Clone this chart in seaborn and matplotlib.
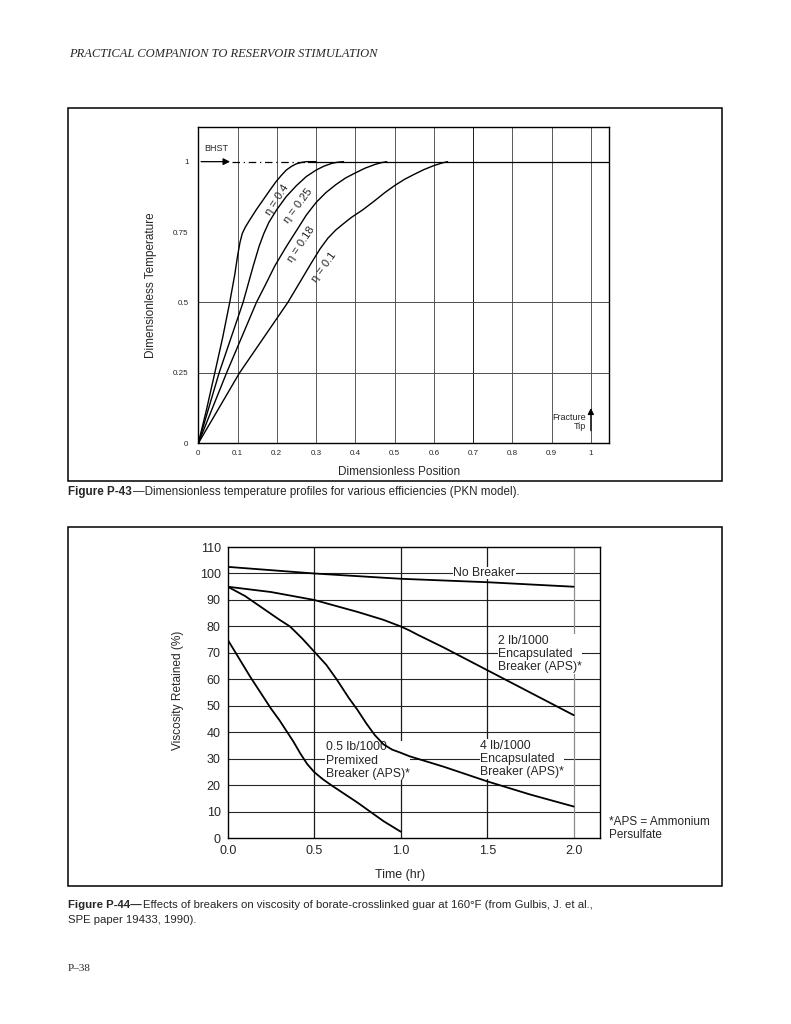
"""
Two figures from a scanned page: P-43 (dimensionless temperature profiles, PKN)
and P-44 (viscosity retained vs time for several breakers).
"""

import matplotlib
matplotlib.use("Agg")
import matplotlib.pyplot as plt
import pandas as pd
import seaborn as sns
from matplotlib.patches import Rectangle

# ---------------------------------------------------------------------------
# Figure P-43 data
# ---------------------------------------------------------------------------
ETA_NAMES = ["η = 0.4", "η = 0.25", "η = 0.18", "η = 0.1"]
ETA_04_X = [0, 0.021, 0.042, 0.062, 0.08, 0.093, 0.1, 0.106, 0.112, 0.12, 0.131,
            0.148, 0.165, 0.182, 0.198, 0.212, 0.224, 0.237, 0.249, 0.262, 0.275, 0.3]
ETA_04_Y = [0, 0.12, 0.25, 0.375, 0.5, 0.6, 0.665, 0.712, 0.745, 0.768, 0.793,
            0.83, 0.864, 0.898, 0.929, 0.952, 0.97, 0.983, 0.992, 0.997, 1.0, 1.0]
ETA_025_X = [0, 0.053, 0.114, 0.14, 0.155, 0.167, 0.18, 0.2, 0.224, 0.25, 0.275,
             0.3, 0.32, 0.34, 0.355, 0.37]
ETA_025_Y = [0, 0.25, 0.5, 0.63, 0.7, 0.745, 0.785, 0.83, 0.876, 0.915, 0.947,
             0.97, 0.984, 0.994, 0.998, 1.0]
ETA_018_X = [0, 0.072, 0.148, 0.17, 0.195, 0.224, 0.25, 0.275, 0.3, 0.325, 0.35,
             0.375, 0.4, 0.425, 0.45, 0.465, 0.48]
ETA_018_Y = [0, 0.25, 0.5, 0.56, 0.63, 0.698, 0.755, 0.81, 0.855, 0.89, 0.918,
             0.942, 0.96, 0.977, 0.99, 0.996, 1.0]
ETA_01_X = [0, 0.105, 0.228, 0.29, 0.31, 0.33, 0.35, 0.37, 0.39, 0.418, 0.45,
            0.475, 0.5, 0.525, 0.55, 0.575, 0.6, 0.62, 0.635]
ETA_01_Y = [0, 0.25, 0.5, 0.645, 0.69, 0.728, 0.757, 0.78, 0.802, 0.828, 0.862,
            0.89, 0.915, 0.937, 0.955, 0.972, 0.986, 0.995, 1.0]

POS_TICKS = [0, 0.1, 0.2, 0.3, 0.4, 0.5, 0.6, 0.7, 0.8, 0.9, 1]
POS_TICKLABELS = ["0", "0.1", "0.2", "0.3", "0.4", "0.5", "0.6", "0.7", "0.8", "0.9", "1"]
TEMP_TICKS = [0, 0.25, 0.5, 0.75, 1]
TEMP_TICKLABELS = ["0", "0.25", "0.5", "0.75", "1"]

# ---------------------------------------------------------------------------
# Figure P-44 data
# ---------------------------------------------------------------------------
NO_BRK_T = [0, 0.5, 1.0, 1.5, 2.0]
NO_BRK_V = [102.5, 100, 98, 96.7, 95]
ENC2_T = [0, 0.25, 0.5, 0.75, 0.9, 1.0, 1.05, 1.1, 1.25, 1.5, 1.75, 2.0]
ENC2_V = [95, 93, 90, 85.5, 82.5, 80, 78.5, 76.8, 72, 63.5, 55, 46.5]
ENC4_T = [0, 0.1, 0.2, 0.3, 0.36, 0.43, 0.5, 0.57, 0.63, 0.7, 0.75, 0.8, 0.85,
          0.9, 0.95, 1.0, 1.05, 1.1, 1.25, 1.5, 1.75, 2.0]
ENC4_V = [95, 91.5, 87, 82.5, 80, 75.5, 70.5, 65.5, 60, 53, 48.5, 43.5, 39,
          35.5, 33.5, 32.3, 31, 30, 27, 21.5, 16.5, 12]
PREMIX_T = [0, 0.065, 0.13, 0.19, 0.25, 0.3, 0.345, 0.38, 0.42, 0.46, 0.5, 0.55,
            0.6, 0.75, 0.9, 1.0]
PREMIX_V = [75, 68, 61, 55, 49, 44.5, 40, 36.5, 32, 28, 25, 22.3, 20, 13.5, 6.5, 2.5]

TIME_TICKS = [0.0, 0.5, 1.0, 1.5, 2.0]
TIME_TICKLABELS = ["0.0", "0.5", "1.0", "1.5", "2.0"]
VISC_TICKS = [0, 10, 20, 30, 40, 50, 60, 70, 80, 90, 100, 110]

SANS = ["Liberation Sans", "DejaVu Sans"]
SERIF = ["Liberation Serif", "DejaVu Serif"]

W, H = 791, 1024


def fx(px):
    return px / W


def fy(py):
    return 1 - py / H


def bold_then_regular(fig, x, y, bold, regular, size):
    """Caption line: bold lead-in followed by regular text."""
    t = fig.text(x, y, bold, fontsize=size, fontweight="bold", family=SANS,
                 va="baseline", ha="left")
    r = fig.canvas.get_renderer()
    bb = t.get_window_extent(renderer=r)
    fig.text(fx(bb.x1) + 0.002, y, regular, fontsize=size, family=SANS,
             va="baseline", ha="left")


def main():
    sns.set_style("white")
    plt.rcParams["font.family"] = SANS

    fig = plt.figure(figsize=(W / 100, H / 100), dpi=100)

    # page furniture
    fig.text(fx(69), fy(57), "PRACTICAL COMPANION TO RESERVOIR STIMULATION",
             family=SERIF, style="italic", fontsize=9, va="baseline")
    fig.text(fx(68), fy(971), "P–38", family=SERIF, fontsize=8, va="baseline")
    for top, bot in [(108, 481), (527, 886)]:
        fig.add_artist(Rectangle((fx(68), fy(bot)), fx(722) - fx(68), fy(top) - fy(bot),
                                 transform=fig.transFigure, fill=False,
                                 edgecolor="black", lw=1.1))

    # ---------------- P-43 ----------------
    ax1 = fig.add_axes([fx(198.3), fy(443.3), fx(609.3) - fx(198.3), fy(127.3) - fy(443.3)])
    curves = []
    for name, xs, ys in zip(ETA_NAMES, [ETA_04_X, ETA_025_X, ETA_018_X, ETA_01_X],
                            [ETA_04_Y, ETA_025_Y, ETA_018_Y, ETA_01_Y]):
        curves.append(pd.DataFrame({"pos": xs, "temp": ys, "curve": name}))
    df1 = pd.concat(curves, ignore_index=True)

    for v in POS_TICKS[1:]:
        ax1.axvline(v, color="0.35" if v != 0.7 else "0.1", lw=0.7, zorder=0)
    for h in [0.25, 0.5]:
        ax1.axhline(h, color="0.3", lw=0.7, zorder=0)

    sns.lineplot(data=df1, x="pos", y="temp", units="curve", estimator=None,
                 sort=False, color="black", lw=1.0, ax=ax1)

    # BHST line
    ax1.plot([0.085, 0.28], [1, 1], color="black", lw=0.9, ls=(0, (6, 3, 1, 3)))
    ax1.plot([0.28, 1.047], [1, 1], color="black", lw=0.9)
    ax1.annotate("", xy=(0.088, 1), xytext=(0.0, 1),
                 arrowprops=dict(arrowstyle="-|>", color="black", lw=0.9,
                                 mutation_scale=10))
    ax1.text(0.015, 1.03, "BHST", fontsize=6.5, ha="left", va="bottom")

    # fracture tip
    ax1.annotate("", xy=(1.0, 0.135), xytext=(1.0, 0.035),
                 arrowprops=dict(arrowstyle="-|>", color="black", lw=0.9,
                                 mutation_scale=9))
    ax1.text(0.988, 0.076, "Fracture\nTip", fontsize=6.5, ha="right", va="center",
             multialignment="right", linespacing=1.1)

    label_pos = [(0.201, 0.864, 57), (0.255, 0.843, 53), (0.261, 0.708, 56), (0.32, 0.627, 54)]
    for name, (lx, ly, rot) in zip(ETA_NAMES, label_pos):
        ax1.text(lx, ly, name, fontsize=8, rotation=rot, ha="center", va="center",
                 rotation_mode="anchor")

    ax1.set_xlim(0, 1.047)
    ax1.set_ylim(0, 1.122)
    ax1.set_xticks(POS_TICKS)
    ax1.set_xticklabels(POS_TICKLABELS)
    ax1.set_yticks(TEMP_TICKS)
    ax1.set_yticklabels(TEMP_TICKLABELS)
    ax1.tick_params(axis="both", length=0, labelsize=5.8)
    ax1.tick_params(axis="x", pad=5)
    ax1.tick_params(axis="y", pad=7)
    ax1.set_xlabel("Dimensionless Position", fontsize=8.5)
    ax1.set_ylabel("Dimensionless Temperature", fontsize=8.5)
    ax1.xaxis.set_label_coords(0.488, -0.072)
    ax1.yaxis.set_label_coords(-0.101, 0.5)
    for s in ax1.spines.values():
        s.set_color("black")
        s.set_linewidth(1.0)

    bold_then_regular(fig, fx(68), fy(495), "Figure P-43",
                      "—Dimensionless temperature profiles for various efficiencies (PKN model).", 8.4)

    # ---------------- P-44 ----------------
    ax2 = fig.add_axes([fx(227.7), fy(838.3), fx(600) - fx(227.7), fy(547) - fy(838.3)])
    series = [
        ("No Breaker", NO_BRK_T, NO_BRK_V),
        ("2 lb/1000 encapsulated", ENC2_T, ENC2_V),
        ("4 lb/1000 encapsulated", ENC4_T, ENC4_V),
        ("0.5 lb/1000 premixed", PREMIX_T, PREMIX_V),
    ]
    df2 = pd.concat([pd.DataFrame({"time": t, "visc": v, "curve": n}) for n, t, v in series],
                    ignore_index=True)

    for h in VISC_TICKS[1:-1]:
        ax2.axhline(h, color="0.15", lw=0.8, zorder=0)
    for v in TIME_TICKS[1:]:
        ax2.axvline(v, color="0.1" if v < 2 else "0.55", lw=0.9, zorder=0)

    sns.lineplot(data=df2, x="time", y="visc", units="curve", estimator=None,
                 sort=False, color="black", lw=1.3, ax=ax2, zorder=3)

    box = dict(facecolor="white", edgecolor="none", pad=0.3)
    ax2.text(1.305, 100.2, "No Breaker", fontsize=8.8, ha="left", va="center",
             bbox=box, zorder=1)
    ax2.text(1.563, 69.6, "2 lb/1000\nEncapsulated\nBreaker (APS)*", fontsize=8.8,
             ha="left", va="center", linespacing=1.15, bbox=box, zorder=1)
    ax2.text(1.459, 30.0, "4 lb/1000\nEncapsulated\nBreaker (APS)*", fontsize=8.8,
             ha="left", va="center", linespacing=1.15, bbox=box, zorder=1)
    ax2.text(0.566, 29.3, "0.5 lb/1000\nPremixed\nBreaker (APS)*", fontsize=8.8,
             ha="left", va="center", linespacing=1.15, bbox=box, zorder=1)
    ax2.text(2.205, 3.6, "*APS = Ammonium\nPersulfate", fontsize=8.5, ha="left",
             va="center", linespacing=1.15, clip_on=False)

    ax2.set_xlim(0, 2.152)
    ax2.set_ylim(0, 110)
    ax2.set_xticks(TIME_TICKS)
    ax2.set_xticklabels(TIME_TICKLABELS)
    ax2.set_yticks(VISC_TICKS)
    ax2.tick_params(axis="both", length=0, labelsize=9)
    ax2.tick_params(axis="x", pad=5)
    ax2.tick_params(axis="y", pad=5)
    ax2.set_xlabel("Time (hr)", fontsize=9)
    ax2.set_ylabel("Viscosity Retained (%)", fontsize=8.6)
    ax2.xaxis.set_label_coords(0.463, -0.105)
    ax2.yaxis.set_label_coords(-0.118, 0.509)
    for s in ax2.spines.values():
        s.set_color("black")
        s.set_linewidth(1.0)

    bold_then_regular(fig, fx(68), fy(908), "Figure P-44\u2014",
                      "Effects of breakers on viscosity of borate-crosslinked guar at 160°F "
                      "(from Gulbis, J. et al.,", 8.2)
    fig.text(fx(68), fy(923), "SPE paper 19433, 1990).", fontsize=8.2, family=SANS,
             va="baseline")

    fig.savefig("out.png", dpi=100)
    plt.close(fig)


if __name__ == "__main__":
    main()
